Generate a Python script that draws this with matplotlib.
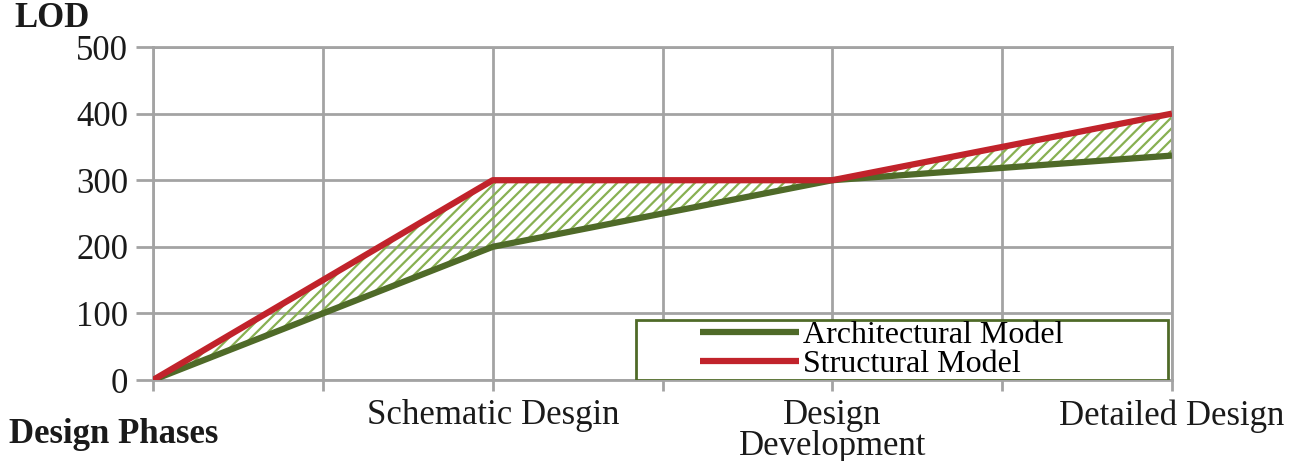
import numpy as np
import matplotlib.pyplot as plt
from matplotlib.patches import Rectangle

# datos
fases = ['', '', 'Schematic Desgin', '', 'Design\nDevelopment', '', 'Detailed Design']
x_datos = [0, 2, 4, 6]
arquitectonico = [0, 200, 300, 337]
estructural = [0, 300, 300, 400]
y_ticks = [0, 100, 200, 300, 400, 500]

verde = '#4F6A28'
rojo = '#C1232B'
gris = '#A3A3A3'

plt.rcParams['font.family'] = ['Liberation Serif', 'DejaVu Serif']
plt.rcParams['hatch.linewidth'] = 1.6

fig = plt.figure(figsize=(13.07, 4.61), dpi=100)
ax = fig.add_axes([0.1171, 0.1757, 0.7796, 0.7223])

# relleno rayado entre las dos series
ax.fill_between(x_datos, arquitectonico, estructural, facecolor='none',
                edgecolor='#88B052', hatch='///', linewidth=0, zorder=2)

ax.plot(x_datos, arquitectonico, color=verde, lw=4.5, solid_capstyle='butt',
        label='Architectural Model', zorder=4)
ax.plot(x_datos, estructural, color=rojo, lw=4.5, solid_capstyle='butt',
        label='Structural Model', zorder=5)

ax.set_xlim(0, 6)
ax.set_ylim(0, 500)
ax.set_xticks(range(len(fases)))
ax.set_xticklabels(fases, fontsize=25, color='#1a1a1a', linespacing=0.9)
ax.set_yticks(y_ticks)
ax.set_yticklabels([str(v) for v in y_ticks], fontsize=25, color='#1a1a1a')
ax.tick_params(axis='y', length=12, width=2, color=gris, pad=6)
ax.tick_params(axis='x', length=8, width=2, color=gris, pad=6)

ax.grid(True, color=gris, lw=2, zorder=0)
ax.set_axisbelow(True)
for s in ax.spines.values():
    s.set_color(gris)
    s.set_linewidth(2)

# leyenda con marco propio
ax.add_patch(Rectangle((0.474, 0.0), 0.522, 0.18, transform=ax.transAxes,
                       facecolor='white', edgecolor=verde, lw=2, zorder=6))
leg = ax.legend(loc='center left', bbox_to_anchor=(0.537, 0.09), frameon=False,
                fontsize=23, handlelength=3.1, handletextpad=0.12,
                labelspacing=0.0, borderpad=0, borderaxespad=0)
leg.set_zorder(7)
for linea in leg.get_lines():
    linea.set_linewidth(4.5)

fig.text(0.011, 0.96, 'LOD', fontsize=25, fontweight='bold', color='#1a1a1a',
         va='center', ha='left')
fig.text(0.007, 0.057, 'Design Phases', fontsize=25, fontweight='bold',
         color='#1a1a1a', va='center', ha='left')

fig.savefig('out.png', dpi=100)
